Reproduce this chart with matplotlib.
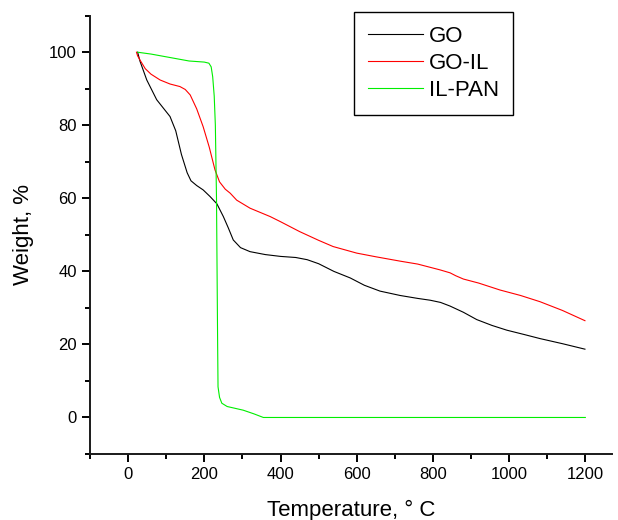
import matplotlib
matplotlib.use("Agg")
import matplotlib.pyplot as plt
from matplotlib.ticker import MultipleLocator

# TGA curves
go_t = [25, 31, 49, 75, 110, 125, 140, 155, 165, 180, 197, 215, 233, 250, 263, 276,
        295, 320, 360, 400, 440, 470, 500, 540, 583, 620, 661, 714, 760, 793, 820, 845,
        880, 915, 955, 994, 1040, 1081, 1140, 1199]
go_w = [100, 97.6, 92.4, 87, 82.4, 78.5, 72, 67, 64.8, 63.5, 62.3, 60.5, 58.5, 55,
        51.9, 48.6, 46.5, 45.4, 44.6, 44.1, 43.8, 43.2, 42.1, 40, 38.2, 36.2, 34.6,
        33.4, 32.6, 32.1, 31.5, 30.5, 28.8, 26.8, 25.2, 23.9, 22.7, 21.6, 20.2, 18.7]

goil_t = [22, 25, 31, 45, 60, 84, 110, 136, 150, 163, 180, 197, 213, 228, 240, 255,
          268, 285, 320, 373, 400, 450, 500, 538, 600, 650, 714, 760, 819, 845, 860,
          880, 920, 976, 1030, 1081, 1140, 1199]
goil_w = [100, 99, 97.9, 95.5, 94, 92.4, 91.3, 90.6, 89.8, 88.3, 84.5, 79.6, 74, 67.8,
          64.5, 62.5, 61.4, 59.5, 57.3, 55, 53.6, 50.9, 48.5, 46.8, 45, 44, 42.8, 42,
          40.4, 39.6, 38.8, 37.9, 36.8, 34.9, 33.4, 31.7, 29.3, 26.5]

ilpan_t = [25, 60, 118, 160, 200, 212, 218, 222, 226, 229, 232, 233.5, 235, 236, 240,
           246, 260, 302, 330, 355, 1200]
ilpan_w = [100, 99.5, 98.4, 97.6, 97.3, 97, 96, 93.3, 88, 80, 60, 40, 20, 8.4, 5.5,
           3.9, 3, 2, 1, 0, 0]

labels = ["GO", "GO-IL", "IL-PAN"]

plt.rcParams['font.family'] = ['Liberation Sans', 'DejaVu Sans']

fig = plt.figure(figsize=(6.18, 5.2), dpi=100)
ax = fig.add_axes([90/618, 1 - 454/520, 522/618, (454 - 15.7)/520])

ax.plot(go_t, go_w, color='black', lw=0.8, label=labels[0])
ax.plot(goil_t, goil_w, color='#ff0000', lw=0.8, label=labels[1])
ax.plot(ilpan_t, ilpan_w, color='#00ee00', lw=0.8, label=labels[2])

ax.set_xlim(-100, 1270)
ax.set_ylim(-10, 110)
ax.xaxis.set_major_locator(MultipleLocator(200))
ax.xaxis.set_minor_locator(MultipleLocator(100))
ax.yaxis.set_major_locator(MultipleLocator(20))
ax.yaxis.set_minor_locator(MultipleLocator(10))

for s in ['top', 'right']:
    ax.spines[s].set_visible(False)
for s in ['left', 'bottom']:
    ax.spines[s].set_linewidth(1.4)
    ax.spines[s].set_color('#1a1a1a')

ax.tick_params(which='major', direction='out', length=6, width=1.4, labelsize=12)
ax.tick_params(which='minor', direction='out', length=3.5, width=1.4)

ax.set_xlabel('Temperature, ° C', fontsize=16, labelpad=13)
ax.set_ylabel('Weight, %', fontsize=16, labelpad=11)

leg = ax.legend(loc='upper left', bbox_to_anchor=(354/618, 1 - 12/520),
                bbox_transform=fig.transFigure, fontsize=16, frameon=True,
                fancybox=False, edgecolor='black', framealpha=1,
                handlelength=2.5, handletextpad=0.26, labelspacing=0.27,
                borderpad=0.62, borderaxespad=0)
leg.get_frame().set_linewidth(1.0)

plt.savefig('out.png', dpi=100)
